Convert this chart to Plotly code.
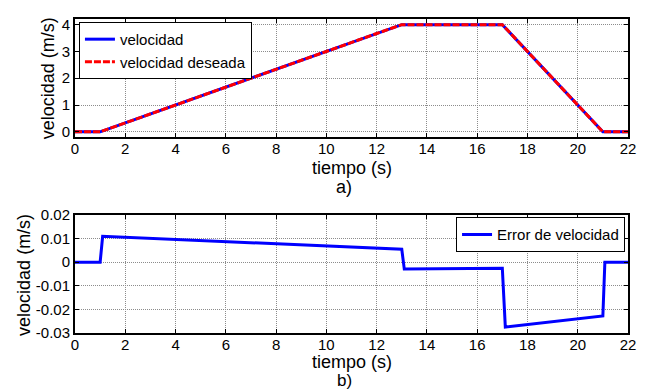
import plotly.graph_objects as go

# ---- data ----
t_vel = [0, 1, 13, 17, 21, 22]
vel = [0, 0, 4, 4, 0, 0]
vel_des = [0, 0, 4, 4, 0, 0]

t_err = [0, 1.0, 1.1, 13.0, 13.1, 17.0, 17.12, 21.0, 21.08, 22]
err = [0, 0, 0.0110, 0.0055, -0.0029, -0.0025, -0.0275, -0.0228, 0, 0]

x_ticks = list(range(0, 23, 2))
y1_ticks = [0, 1, 2, 3, 4]
y2_ticks = [-0.03, -0.02, -0.01, 0, 0.01, 0.02]
y2_labels = ["-0.03", "-0.02", "-0.01", "0", "0.01", "0.02"]

W, H = 646, 390
ML, MR, MT, MB = 75, 10, 10, 57
PW, PH = W - ML - MR, H - MT - MB

def px(x):
    return (x - ML) / PW

def py(y):
    return (H - MB - y) / PH

FONT = "Liberation Sans, Arial, sans-serif"

fig = go.Figure()
fig.add_trace(go.Scatter(x=t_vel, y=vel, mode="lines", name="velocidad",
                         line=dict(color="#0000ff", width=3), xaxis="x", yaxis="y",
                         legend="legend"))
fig.add_trace(go.Scatter(x=t_vel, y=vel_des, mode="lines", name="velocidad deseada",
                         line=dict(color="#ff0000", width=3, dash="7px,2px"), xaxis="x", yaxis="y",
                         legend="legend"))
fig.add_trace(go.Scatter(x=t_err, y=err, mode="lines", name="Error de velocidad",
                         line=dict(color="#0000ff", width=3), xaxis="x2", yaxis="y2",
                         legend="legend2"))

axis_common = dict(showline=True, linecolor="black", linewidth=2, mirror="ticks",
                   ticks="inside", ticklen=4, tickcolor="black", tickwidth=1,
                   showgrid=True, gridcolor="#8c8c8c", griddash="1px,1px", gridwidth=1,
                   zeroline=False, tickfont=dict(family=FONT, size=15, color="black"))

top_dom = [py(131), 1.0]
bot_dom = [0.0, py(211.7)]

fig.update_layout(
    width=W, height=H,
    margin=dict(l=ML, r=MR, t=MT, b=MB),
    plot_bgcolor="white", paper_bgcolor="white",
    font=dict(family=FONT, size=15, color="black"),
    xaxis=dict(domain=[0, 1], range=[0, 22], tickvals=x_ticks, anchor="y",
               ticklabelstandoff=-3, **axis_common),
    yaxis=dict(domain=top_dom, range=[-0.18, 4.21], tickvals=y1_ticks, anchor="x", **axis_common),
    xaxis2=dict(domain=[0, 1], range=[0, 22], tickvals=x_ticks, anchor="y2",
                ticklabelstandoff=-3, **axis_common),
    yaxis2=dict(domain=bot_dom, range=[-0.03, 0.02], tickvals=y2_ticks, ticktext=y2_labels,
                anchor="x2", **axis_common),
    legend=dict(x=px(79), y=py(13), xanchor="left", yanchor="top",
                bgcolor="white", bordercolor="black", borderwidth=1,
                font=dict(family=FONT, size=15), itemwidth=30,
                tracegroupgap=0),
    legend2=dict(x=px(633), y=py(214), xanchor="right", yanchor="top",
                 bgcolor="white", bordercolor="black", borderwidth=1,
                 font=dict(family=FONT, size=15), itemwidth=30),
    showlegend=True,
)

ann = []
def add_text(text, x, y, size, angle=0):
    ann.append(dict(text=text, x=px(x), y=py(y), xref="paper", yref="paper",
                    showarrow=False, textangle=angle, xanchor="center", yanchor="middle",
                    font=dict(family=FONT, size=size, color="black")))

add_text("velocidad (m/s)", 47, 70.5, 18, -90)
add_text("velocidad (m/s)", 22.5, 273, 18, -90)
add_text("tiempo (s)", 356, 163, 18)
add_text("a)", 348, 183, 18)
add_text("tiempo (s)", 356, 363, 18)
add_text("b)", 348, 382, 17)
fig.update_layout(annotations=ann)

fig.write_html("out.html")
